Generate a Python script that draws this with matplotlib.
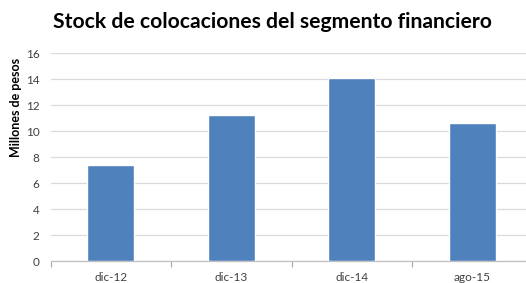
import matplotlib
matplotlib.use("Agg")
import matplotlib.pyplot as plt
import numpy as np

categories = ["dic-12", "dic-13", "dic-14", "ago-15"]
values = [7.4, 11.2, 14.1, 10.6]
yticks = [0, 2, 4, 6, 8, 10, 12, 14, 16]

plt.rcParams['font.family'] = ['Lato', 'DejaVu Sans']

fig = plt.figure(figsize=(5.26, 2.83), dpi=100)
ax = fig.add_axes([50.5/526, 22/283, 482/526, 208/283])

x = np.arange(len(categories))
ax.bar(x, values, width=0.39, color="#4F81BD", edgecolor="white", linewidth=1.0, zorder=3)

ax.set_xlim(-0.5, len(categories) - 0.5)
ax.set_ylim(0, 16)
ax.set_yticks(yticks)
ax.set_yticklabels([str(t) for t in yticks], fontsize=8.5, color="#404040")
ax.yaxis.grid(True, color="#D9D9D9", linewidth=0.9, zorder=0)
ax.tick_params(axis='y', length=0, pad=8)

ax.set_xticks(x)
ax.set_xticklabels(categories, fontsize=8.5, color="#404040")
ax.tick_params(axis='x', which='major', length=0, pad=8)
ax.set_xticks(np.arange(len(categories) + 1) - 0.5, minor=True)
ax.tick_params(axis='x', which='minor', length=4, color="#A6A6A6", width=0.8)

for s in ["top", "right", "left"]:
    ax.spines[s].set_visible(False)
ax.spines["bottom"].set_color("#BFBFBF")
ax.spines["bottom"].set_linewidth(0.9)

fig.text(16/526, 1 - 107/283, "Millones de pesos", fontsize=9, fontweight="bold",
         rotation=90, ha="center", va="center", color="black")

fig.text(272/526, 1 - 22/283, "Stock de colocaciones del segmento financiero",
         fontsize=15.2, fontweight="bold", ha="center", va="center", color="black")

fig.savefig("out.png", dpi=100)
